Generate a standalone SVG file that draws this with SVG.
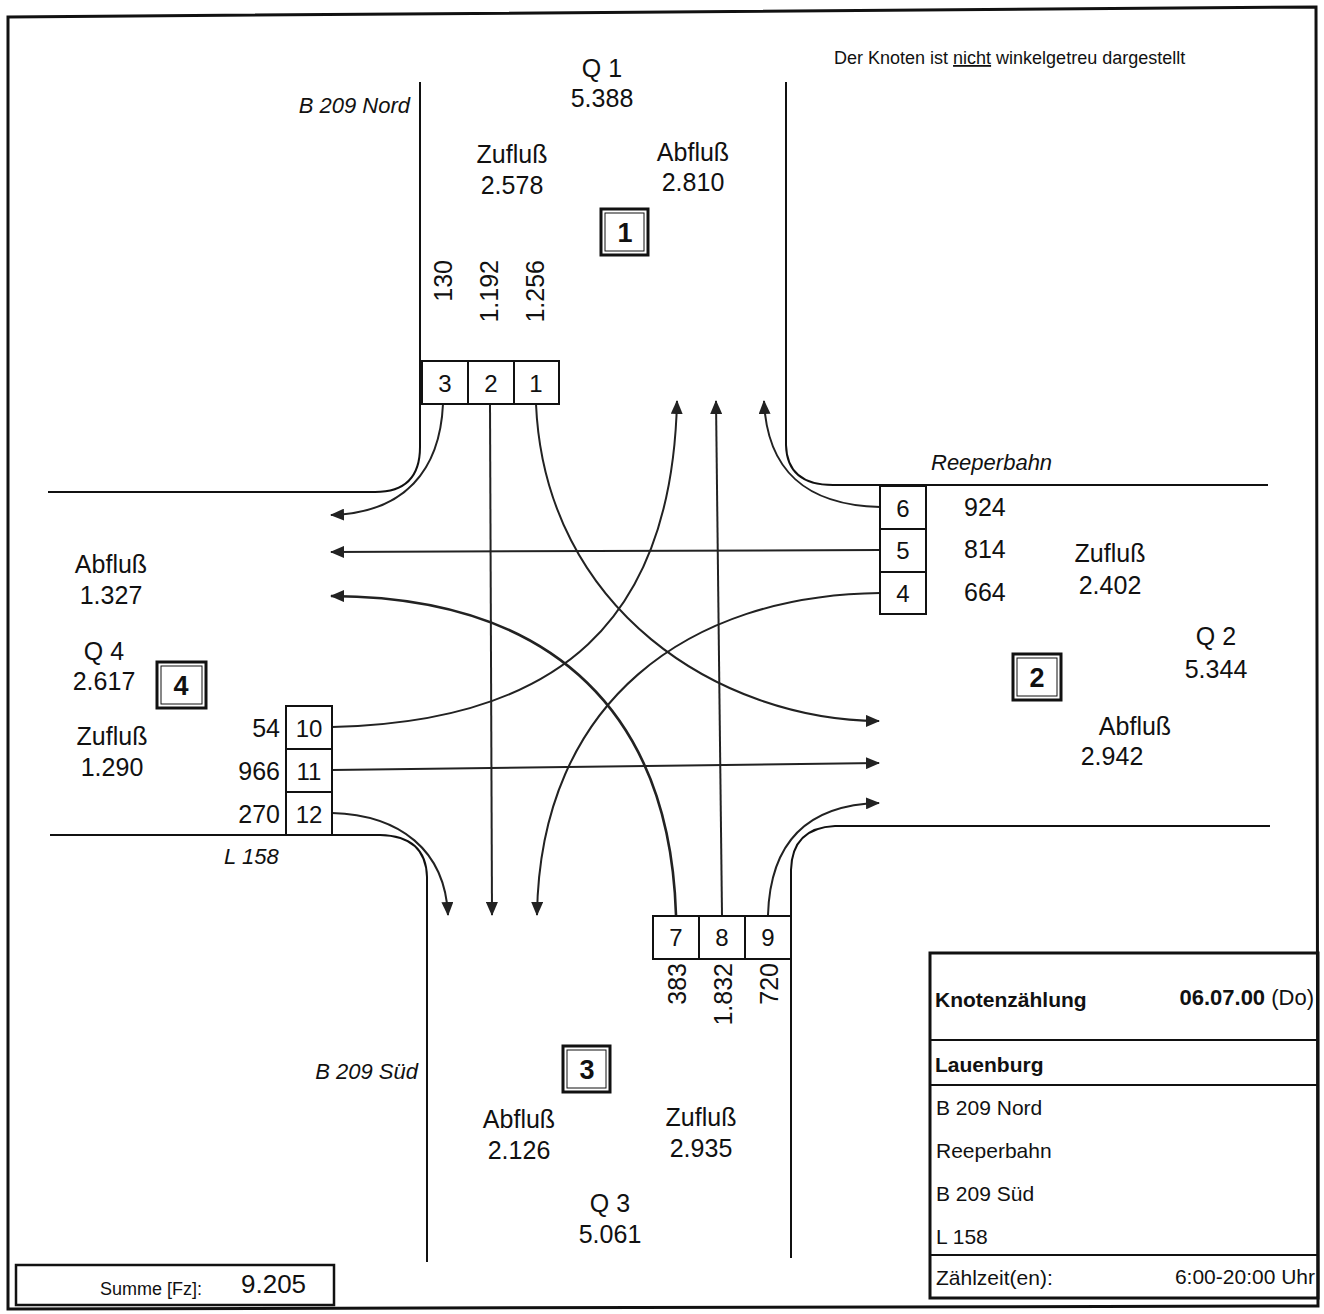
<svg xmlns="http://www.w3.org/2000/svg" width="1324" height="1314" viewBox="0 0 1324 1314">
<style>
text{font-family:"Liberation Sans",Arial,sans-serif;fill:#111}
.t{font-size:25px}
.it{font-size:22px;font-style:italic}
.bx{font-size:24px;text-anchor:middle}
.lane{fill:#fff;stroke:#111;stroke-width:2}
.road{fill:none;stroke:#111;stroke-width:2}
.arr{fill:none;stroke:#222;stroke-width:2;marker-end:url(#ah)}
.c{text-anchor:middle}
.frame{fill:none;stroke:#111;stroke-width:3}
.info{font-size:21px}
</style>
<defs>
<marker id="ah" viewBox="0 0 14 12" refX="13" refY="6" markerWidth="14" markerHeight="12" markerUnits="userSpaceOnUse" orient="auto">
<path d="M0,0 L14,6 L0,12 Z" fill="#222"/>
</marker>
</defs>
<rect width="1324" height="1314" fill="#fff"/>
<path d="M8,17 L1316,7 L1318,1306 L8,1309 Z" class="frame"/>

<g id="roads">
<path class="road" d="M420,82 V447 Q420,492 375,492 H48"/>
<path class="road" d="M786,82 V445 Q787,485 833,485 H1268"/>
<path class="road" d="M50,835 H380 Q426,836 427,877 V1262"/>
<path class="road" d="M1270,826 H835 Q792,828 791,870 V1258"/>
</g>

<g id="connectors">
<path class="arr" d="M443,404 C440,470 405,513 331,515"/>
<path class="arr" d="M490,404 L492,915"/>
<path class="arr" d="M536,404 C545,610 720,720 879,721"/>
<path class="arr" d="M880,507 C805,505 767,470 764,401"/>
<path class="arr" d="M880,550 L331,552"/>
<path class="arr" d="M880,593 C690,595 540,700 537,915"/>
<path class="arr" d="M332,727 C560,722 672,620 677,401"/>
<path class="arr" d="M332,770 L879,763"/>
<path class="arr" d="M332,813 C400,815 445,850 448,915"/>
<path class="arr" d="M676,915 C670,720 560,597 331,596" style="stroke-width:2.6"/>
<path class="arr" d="M722,915 L716,401"/>
<path class="arr" d="M768,915 C770,850 800,805 879,803"/>
</g>

<g id="lanes-north">
<rect class="lane" x="422" y="361" width="46" height="43"/>
<rect class="lane" x="468" y="361" width="46" height="43"/>
<rect class="lane" x="514" y="361" width="45" height="43"/>
<text class="bx" x="445" y="392">3</text>
<text class="bx" x="491" y="392">2</text>
<text class="bx" x="536" y="392">1</text>
<text class="t" transform="translate(452,260) rotate(-90)" text-anchor="end">130</text>
<text class="t" transform="translate(498,260) rotate(-90)" text-anchor="end">1.192</text>
<text class="t" transform="translate(544,260) rotate(-90)" text-anchor="end">1.256</text>
</g>

<g id="lanes-east">
<rect class="lane" x="880" y="486" width="46" height="43"/>
<rect class="lane" x="880" y="529" width="46" height="43"/>
<rect class="lane" x="880" y="572" width="46" height="42"/>
<text class="bx" x="903" y="517">6</text>
<text class="bx" x="903" y="559">5</text>
<text class="bx" x="903" y="602">4</text>
<text class="t" x="964" y="516">924</text>
<text class="t" x="964" y="558">814</text>
<text class="t" x="964" y="601">664</text>
</g>

<g id="lanes-west">
<rect class="lane" x="286" y="706" width="46" height="43"/>
<rect class="lane" x="286" y="749" width="46" height="43"/>
<rect class="lane" x="286" y="792" width="46" height="43"/>
<text class="bx" x="309" y="737">10</text>
<text class="bx" x="309" y="780">11</text>
<text class="bx" x="309" y="823">12</text>
<text class="t" x="280" y="737" text-anchor="end">54</text>
<text class="t" x="280" y="780" text-anchor="end">966</text>
<text class="t" x="280" y="823" text-anchor="end">270</text>
</g>

<g id="lanes-south">
<rect class="lane" x="653" y="916" width="46" height="43"/>
<rect class="lane" x="699" y="916" width="46" height="43"/>
<rect class="lane" x="745" y="916" width="46" height="43"/>
<text class="bx" x="676" y="946">7</text>
<text class="bx" x="722" y="946">8</text>
<text class="bx" x="768" y="946">9</text>
<text class="t" transform="translate(686,963) rotate(-90)" text-anchor="end">383</text>
<text class="t" transform="translate(732,963) rotate(-90)" text-anchor="end">1.832</text>
<text class="t" transform="translate(778,963) rotate(-90)" text-anchor="end">720</text>
</g>

<g id="arm-1">
<text class="it" x="410" y="113" text-anchor="end">B 209 Nord</text>
<text class="t c" x="602" y="77">Q 1</text>
<text class="t c" x="602" y="107">5.388</text>
<text class="t c" x="512" y="163">Zufluß</text>
<text class="t c" x="512" y="194">2.578</text>
<text class="t c" x="693" y="161">Abfluß</text>
<text class="t c" x="693" y="191">2.810</text>
<rect x="601" y="209" width="47" height="46" fill="none" stroke="#111" stroke-width="3"/>
<rect x="605" y="213" width="39" height="38" fill="none" stroke="#111" stroke-width="1"/>
<text x="625" y="242" class="c" style="font-size:27px;font-weight:bold">1</text>
</g>

<g id="arm-2">
<text class="it" x="931" y="470">Reeperbahn</text>
<text class="t c" x="1110" y="562">Zufluß</text>
<text class="t c" x="1110" y="594">2.402</text>
<text class="t c" x="1216" y="645">Q 2</text>
<text class="t c" x="1216" y="678">5.344</text>
<rect x="1013" y="654" width="48" height="46" fill="none" stroke="#111" stroke-width="3"/>
<rect x="1017" y="658" width="40" height="38" fill="none" stroke="#111" stroke-width="1"/>
<text x="1037" y="687" class="c" style="font-size:27px;font-weight:bold">2</text>
<text class="t c" x="1135" y="735">Abfluß</text>
<text class="t c" x="1112" y="765">2.942</text>
</g>

<g id="arm-3">
<text class="it" x="418" y="1079" text-anchor="end">B 209 Süd</text>
<rect x="563" y="1046" width="47" height="46" fill="none" stroke="#111" stroke-width="3"/>
<rect x="567" y="1050" width="39" height="38" fill="none" stroke="#111" stroke-width="1"/>
<text x="587" y="1079" class="c" style="font-size:27px;font-weight:bold">3</text>
<text class="t c" x="519" y="1128">Abfluß</text>
<text class="t c" x="519" y="1159">2.126</text>
<text class="t c" x="701" y="1126">Zufluß</text>
<text class="t c" x="701" y="1157">2.935</text>
<text class="t c" x="610" y="1212">Q 3</text>
<text class="t c" x="610" y="1243">5.061</text>
</g>

<g id="arm-4">
<text class="t c" x="111" y="573">Abfluß</text>
<text class="t c" x="111" y="604">1.327</text>
<text class="t c" x="104" y="660">Q 4</text>
<text class="t c" x="104" y="690">2.617</text>
<rect x="157" y="662" width="49" height="46" fill="none" stroke="#111" stroke-width="3"/>
<rect x="161" y="666" width="41" height="38" fill="none" stroke="#111" stroke-width="1"/>
<text x="181" y="695" class="c" style="font-size:27px;font-weight:bold">4</text>
<text class="t c" x="112" y="745">Zufluß</text>
<text class="t c" x="112" y="776">1.290</text>
<text class="it" x="224" y="864">L 158</text>
</g>

<g id="note">
<text x="834" y="64" style="font-size:18px">Der Knoten ist <tspan text-decoration="underline">nicht</tspan>  winkelgetreu dargestellt</text>
</g>

<g id="info">
<rect x="930" y="953" width="388" height="345" fill="none" stroke="#111" stroke-width="3"/>
<line x1="930" y1="1040" x2="1318" y2="1040" stroke="#111" stroke-width="2"/>
<line x1="930" y1="1085" x2="1318" y2="1085" stroke="#111" stroke-width="2"/>
<line x1="930" y1="1255" x2="1318" y2="1255" stroke="#111" stroke-width="2"/>
<text class="info" x="935" y="1007" font-weight="bold">Knotenzählung</text>
<text x="1314" y="1005" text-anchor="end" style="font-size:22px"><tspan font-weight="bold">06.07.00</tspan> (Do)</text>
<text class="info" x="935" y="1072" font-weight="bold">Lauenburg</text>
<text class="info" x="936" y="1115">B 209 Nord</text>
<text class="info" x="936" y="1158">Reeperbahn</text>
<text class="info" x="936" y="1201">B 209 Süd</text>
<text class="info" x="936" y="1244">L 158</text>
<text class="info" x="936" y="1285">Zählzeit(en):</text>
<text class="info" x="1315" y="1284" text-anchor="end">6:00-20:00 Uhr</text>
</g>

<g id="summe">
<rect x="16" y="1265" width="318" height="40" fill="none" stroke="#111" stroke-width="2.5"/>
<text x="100" y="1295" style="font-size:18px">Summe [Fz]:</text>
<text x="241" y="1293" style="font-size:26px">9.205</text>
</g>
</svg>
